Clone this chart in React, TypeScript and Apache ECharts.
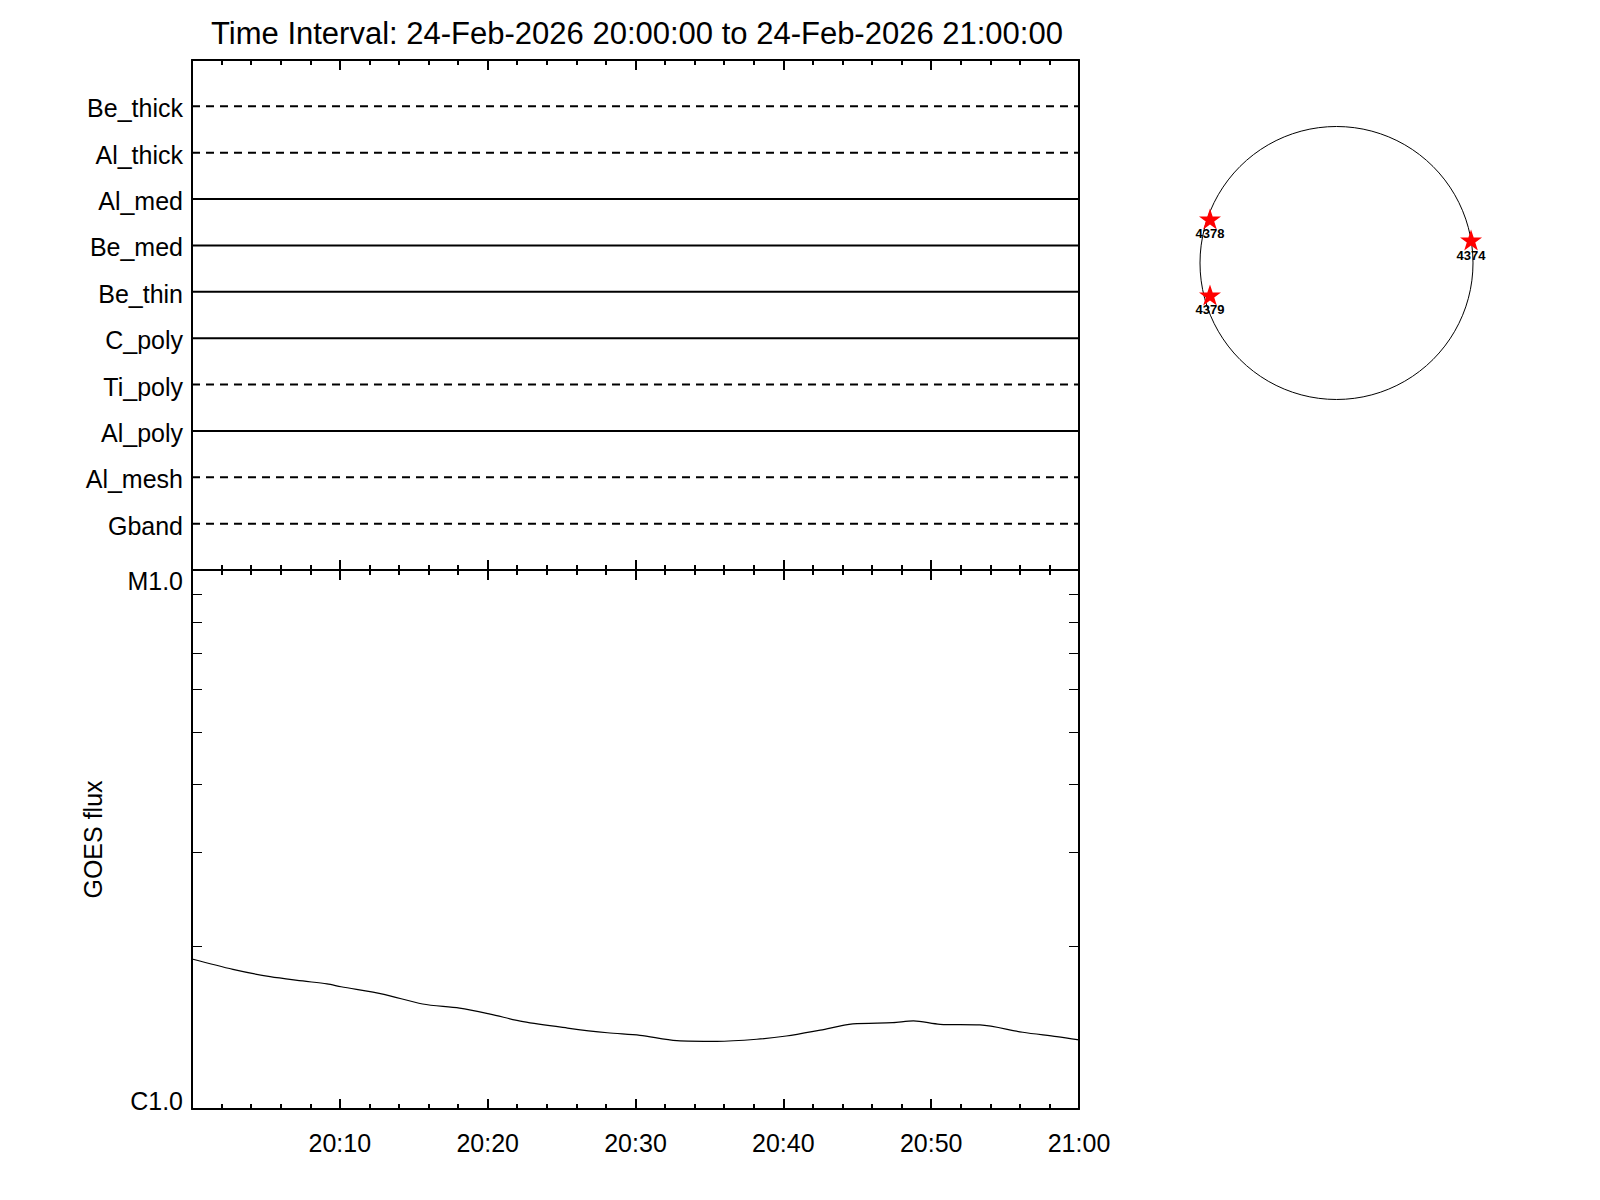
import React, { useEffect, useRef } from "react";
import * as echarts from "echarts";

// ---------- data ----------
const TITLE = "Time Interval: 24-Feb-2026 20:00:00 to 24-Feb-2026 21:00:00";

const channelNames = ["Be_thick", "Al_thick", "Al_med", "Be_med", "Be_thin", "C_poly", "Ti_poly", "Al_poly", "Al_mesh", "Gband"];
const channelRows = [10, 9, 8, 7, 6, 5, 4, 3, 2, 1];
const channelDashed = [true, true, false, false, false, false, true, false, true, true];

const timeTickLabels = ["20:00", "20:10", "20:20", "20:30", "20:40", "20:50", "21:00"];

const goesTimes = [
  "20:00:00", "20:02:46", "20:05:17", "20:07:30", "20:09:08", "20:10:05", "20:12:59", "20:15:36", "20:18:06",
  "20:20:10", "20:22:24", "20:25:24", "20:28:06", "20:30:18", "20:32:48", "20:35:30", "20:38:12",
  "20:40:12", "20:42:30", "20:44:42", "20:47:24", "20:48:48", "20:50:36", "20:53:18", "20:56:12",
  "20:58:30", "21:00:00",
];
const goesFlux = [
  1.898e-6, 1.816e-6, 1.76e-6, 1.728e-6, 1.706e-6, 1.686e-6, 1.632e-6, 1.566e-6, 1.539e-6,
  1.5e-6, 1.452e-6, 1.413e-6, 1.385e-6, 1.37e-6, 1.339e-6, 1.335e-6, 1.347e-6,
  1.366e-6, 1.401e-6, 1.438e-6, 1.446e-6, 1.457e-6, 1.436e-6, 1.432e-6, 1.388e-6,
  1.362e-6, 1.343e-6,
];

const fluxLabelValues = [1e-6, 1e-5];
const fluxLabels = ["C1.0", "M1.0"];
const fluxMinorTicks = [2e-6, 3e-6, 4e-6, 5e-6, 6e-6, 7e-6, 8e-6, 9e-6];

// active regions on the solar disk (arcsec)
const solarRadius = 970;
const regionNames = ["4378", "4379", "4374"];
const regionX = [-899, -899, 956];
const regionY = [313, -227, 163];

// ---------- layout ----------
const FONT = "'Liberation Sans', Arial, Helvetica, sans-serif";
const LABEL_SIZE = 25;
const PL = 192;
const PW = 887;
const UT = 60;
const UH = 510;
const LT = 570;
const LH = 539;
const DISK_CX = 1336.5;
const DISK_CY = 263;
const DISK_R = 136.5;

const STAR =
  "path://M50,0 L61.8,35.1 L98.9,35.1 L68.9,56.8 L80.3,91.9 L50,70.2 L19.7,91.9 L31.1,56.8 L1.1,35.1 L38.2,35.1 Z";

function toMinutes(s: string): number {
  const [h, m, sec] = s.split(":").map(Number);
  return (h - 20) * 60 + m + (sec || 0) / 60;
}

const black = "#000";
const labelStyle = { fontSize: LABEL_SIZE, color: black, fontFamily: FONT };

function timeAxis(gridIndex: number, position: string, showLabel: boolean) {
  return {
    type: "value",
    gridIndex,
    position,
    min: 0,
    max: 60,
    interval: 10,
    axisLine: { show: true, onZero: false, lineStyle: { color: black, width: 2 } },
    axisTick: { show: true, inside: true, length: 10, lineStyle: { color: black, width: 2 } },
    minorTick: { show: true, splitNumber: 5, length: 5, lineStyle: { color: black, width: 2 } },
    splitLine: { show: false },
    minorSplitLine: { show: false },
    axisLabel: showLabel
      ? {
          show: true,
          margin: 21,
          ...labelStyle,
          formatter: (v: number) => (v === 0 ? "" : timeTickLabels[Math.round(v / 10)]),
        }
      : { show: false },
  };
}

function fluxAxis(position: string, showLabel: boolean) {
  return {
    type: "log",
    gridIndex: 1,
    position,
    logBase: 10,
    min: 1e-6,
    max: 1e-5,
    axisLine: { show: true, onZero: false, lineStyle: { color: black, width: 2 } },
    axisTick: {
      show: true,
      inside: true,
      length: 10,
      customValues: fluxMinorTicks,
      lineStyle: { color: black, width: 1 },
    },
    minorTick: { show: false },
    splitLine: { show: false },
    axisLabel: showLabel
      ? {
          show: true,
          customValues: fluxLabelValues,
          margin: 9,
          ...labelStyle,
          verticalAlign: "middle",
          formatter: (v: number) => (v < 3e-6 ? `{c|${fluxLabels[0]}}` : `{m|${fluxLabels[1]}}`),
          rich: {
            c: { ...labelStyle, padding: [0, 0, 16, 0] },
            m: { ...labelStyle, padding: [21, 0, 0, 0] },
          },
        }
      : { show: false },
    ...(showLabel
      ? {
          name: "GOES flux",
          nameLocation: "middle",
          nameGap: 87,
          nameRotate: 90,
          nameTextStyle: labelStyle,
        }
      : {}),
  };
}

export default function App() {
  const ref = useRef<HTMLDivElement>(null);

  useEffect(() => {
    if (!ref.current) return;
    const chart = echarts.init(ref.current, null, { renderer: "svg" });

    const channelSeries = channelNames.map((name, i) => ({
      type: "line",
      name,
      xAxisIndex: 0,
      yAxisIndex: 0,
      data: [
        [0, channelRows[i]],
        [60, channelRows[i]],
      ],
      symbol: "none",
      silent: true,
      lineStyle: { color: black, width: 2, type: channelDashed[i] ? [8, 6] : "solid" },
    }));

    const option = {
      animation: false,
      backgroundColor: "#fff",
      grid: [
        { left: PL, top: UT, width: PW, height: UH, containLabel: false },
        { left: PL, top: LT, width: PW, height: LH, containLabel: false },
        { left: DISK_CX - DISK_R, top: DISK_CY - DISK_R, width: 2 * DISK_R, height: 2 * DISK_R, containLabel: false },
      ],
      xAxis: [
        timeAxis(0, "bottom", false),
        timeAxis(0, "top", false),
        timeAxis(1, "bottom", true),
        timeAxis(1, "top", false),
        { type: "value", gridIndex: 2, min: -solarRadius, max: solarRadius, show: false },
      ],
      yAxis: [
        {
          type: "value",
          gridIndex: 0,
          position: "left",
          min: 0,
          max: 11,
          interval: 1,
          axisLine: { show: true, onZero: false, lineStyle: { color: black, width: 2 } },
          axisTick: { show: false },
          splitLine: { show: false },
          axisLabel: {
            show: true,
            margin: 9,
            ...labelStyle,
            verticalAlign: "middle",
            formatter: (v: number) => {
              const idx = channelRows.indexOf(Math.round(v));
              return idx >= 0 ? `{n|${channelNames[idx]}}` : "";
            },
            rich: { n: { ...labelStyle, padding: [4, 0, 0, 0] } },
          },
        },
        {
          type: "value",
          gridIndex: 0,
          position: "right",
          min: 0,
          max: 11,
          interval: 1,
          axisLine: { show: true, onZero: false, lineStyle: { color: black, width: 2 } },
          axisTick: { show: false },
          splitLine: { show: false },
          axisLabel: { show: false },
        },
        fluxAxis("left", true),
        fluxAxis("right", false),
        { type: "value", gridIndex: 2, min: -solarRadius, max: solarRadius, show: false },
      ],
      graphic: [
        {
          type: "text",
          x: 637,
          y: 33,
          style: {
            text: TITLE,
            fontSize: 31,
            fontFamily: FONT,
            fill: black,
            textAlign: "center",
            textVerticalAlign: "middle",
          },
        },
        {
          type: "circle",
          shape: { cx: DISK_CX, cy: DISK_CY, r: DISK_R },
          style: { fill: "none", stroke: black, lineWidth: 1 },
          silent: true,
        },
      ],
      series: [
        ...channelSeries,
        {
          type: "line",
          name: "GOES",
          xAxisIndex: 2,
          yAxisIndex: 2,
          data: goesTimes.map((t, i) => [toMinutes(t), goesFlux[i]]),
          symbol: "none",
          smooth: 0.3,
          lineStyle: { color: black, width: 1.2 },
        },
        {
          type: "scatter",
          name: "regions",
          xAxisIndex: 4,
          yAxisIndex: 4,
          data: regionNames.map((n, i) => ({ name: n, value: [regionX[i], regionY[i]] })),
          symbol: STAR,
          symbolSize: [22, 21],
          itemStyle: { color: "#ff0000", opacity: 1 },
          label: {
            show: true,
            position: "bottom",
            distance: -2,
            formatter: "{b}",
            fontSize: 13,
            fontWeight: "bold",
            color: black,
            fontFamily: FONT,
          },
        },
      ],
    };

    chart.setOption(option as any);
    return () => chart.dispose();
  }, []);

  return (
    <div
      ref={ref}
      style={{ position: "fixed", left: 0, top: 0, width: 1600, height: 1200, background: "#fff" }}
    />
  );
}
